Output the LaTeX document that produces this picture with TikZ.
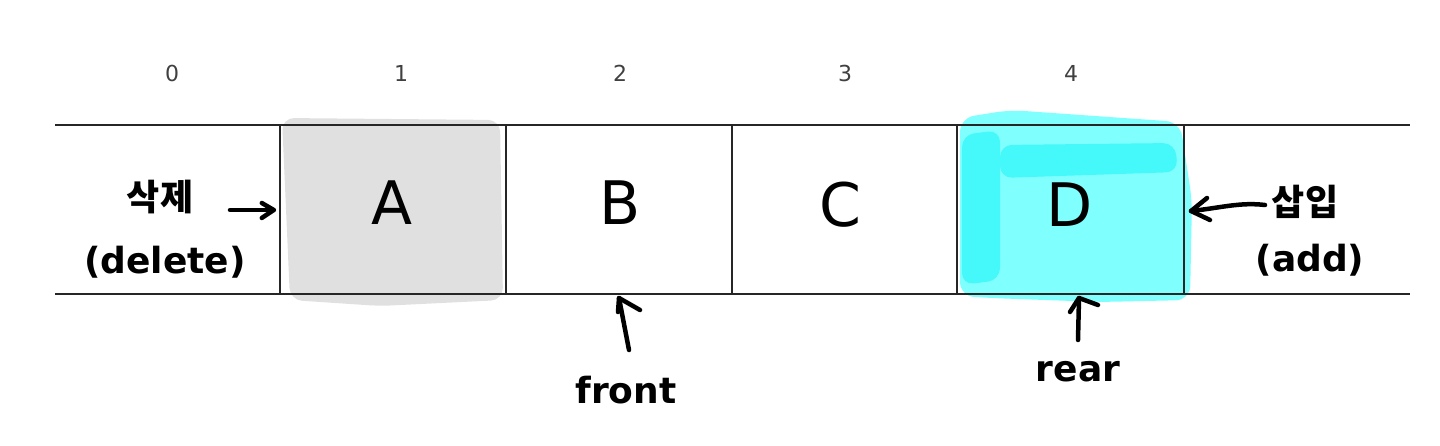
\documentclass[tikz,border=0pt]{standalone}
\usepackage{fontspec}
\setmainfont{DejaVu Sans}
\newfontfamily\hand{DejaVu Sans}
\newfontfamily\kor{Noto Sans CJK KR}
\definecolor{hilite}{HTML}{80FFFF}
\definecolor{hilitedk}{HTML}{45F8FA}
\definecolor{greyhl}{HTML}{E0E0E0}
\begin{document}
\begin{tikzpicture}[x=1pt,y=-1pt,
  idx/.style={font=\fontsize{22}{22}\selectfont, text=black!75},
  letter/.style={font=\fontsize{60}{60}\selectfont},
  cell/.style={minimum width=226pt, minimum height=169pt, inner sep=0pt},
  grid/.style={line width=2.2pt, draw=black!85},
  pen/.style={line width=4.5pt, line cap=round, line join=round},
  handtxt/.style={font=\hand\bfseries\fontsize{36}{36}\selectfont, inner sep=0pt},
  kortxt/.style={font=\kor\bfseries\fontsize{36}{36}\selectfont, inner sep=0pt}]
\useasboundingbox (0,0) rectangle (1440,446);
% highlight fills
\fill[greyhl, rounded corners=12pt] (282,118) -- (500,120) -- (503,300) -- (380,306) -- (290,300) -- cycle;
\fill[hilite, rounded corners=14pt] (960,118) -- (1010,110) -- (1180,122) -- (1192,200) -- (1190,300) -- (1100,302) -- (990,298) -- (960,296) -- cycle;
\fill[hilitedk, rounded corners=12pt] (1000,145) -- (1175,143) -- (1178,172) -- (1000,178) -- cycle;
\fill[hilitedk, rounded corners=12pt] (962,135) -- (1000,130) -- (1000,280) -- (962,285) -- cycle;
% cells
\node[cell] (c0) at (167.5,209.5) {};
\node[cell] (c1) at (393,209.5) {};
\node[cell] (c2) at (619,209.5) {};
\node[cell] (c3) at (845,209.5) {};
\node[cell] (c4) at (1070.5,209.5) {};
\node[cell] (c5) at (1296.5,209.5) {};
% grid lines
\draw[grid] (55,125) -- (1410,125);
\draw[grid] (55,294) -- (1410,294);
\foreach \n in {c1,c2,c3,c4} \draw[grid] (\n.north west) -- (\n.south west);
\draw[grid] (c4.north east) -- (c4.south east);
% indices
\node[idx] (i0) at (172,73) {0};
\node[idx] (i1) at (401,73) {1};
\node[idx] (i2) at (620,73) {2};
\node[idx] (i3) at (845,73) {3};
\node[idx] (i4) at (1071,73) {4};
% letters
\node[letter] (la) at (392,203) {A};
\node[letter] (lb) at (620,203) {B};
\node[letter] (lc) at (840,205) {C};
\node[letter] (ld) at (1070,205) {D};
% labels
\node[kortxt] (del) at (160,197) {삭제};
\node[handtxt] (dele) at (165,262) {(delete)};
\node[kortxt] (ins) at (1305,202) {삽입};
\node[handtxt] (addt) at (1310,260) {(add)};
\node[handtxt] (front) at (626,390) {front};
\node[handtxt] (rear) at (1078,372) {rear};
% arrows
\coordinate (d1) at (230,210);
\coordinate (d2) at (c1.west|-0,210);
\draw[pen] (d1) -- ([xshift=-6pt]d2);
\draw[pen] ([xshift=-18pt,yshift=-8pt]d2) -- ([xshift=-6pt]d2) -- ([xshift=-18pt,yshift=7pt]d2);
\coordinate (a1) at (1265,205);
\coordinate (a2) at (1191,211);
\draw[pen] (a1) .. controls (1240,202) and (1220,208) .. (a2);
\draw[pen] (1207,198) -- (a2) -- (1210,220);
\coordinate (f1) at (629,350);
\coordinate (f2) at (c2.south|-0,298);
\draw[pen] (f1) -- (f2);
\draw[pen] (618,312) -- (f2) -- (640,310);
\coordinate (r1) at (1078,340);
\coordinate (r2) at (1079,298);
\draw[pen] (r1) -- (r2);
\draw[pen] (1070,312) -- (r2) -- (1098,305);
\end{tikzpicture}
\end{document}
